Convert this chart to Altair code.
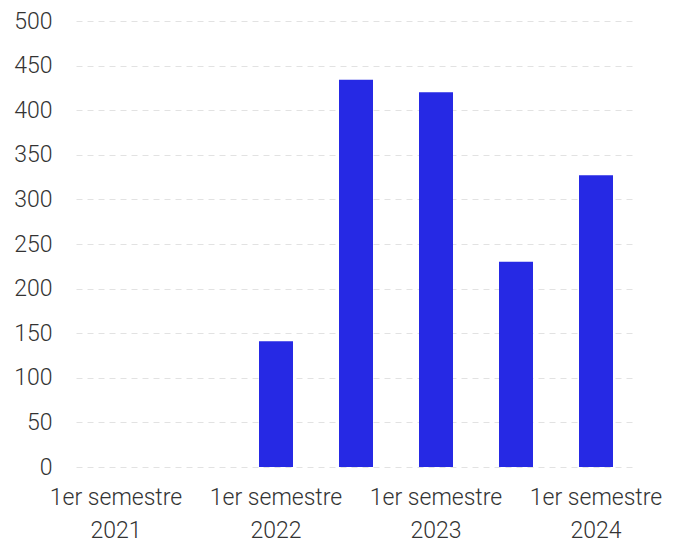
import altair as alt
import pandas as pd

categories = [
    "1er semestre 2021", "2do semestre 2021",
    "1er semestre 2022", "2do semestre 2022",
    "1er semestre 2023", "2do semestre 2023",
    "1er semestre 2024",
]
values = [0, 0, 141, 434, 420, 230, 327]
shown_labels = ["1er semestre 2021", "1er semestre 2022", "1er semestre 2023", "1er semestre 2024"]
y_ticks = [0, 50, 100, 150, 200, 250, 300, 350, 400, 450, 500]

df = pd.DataFrame({"cat": categories, "val": values})

chart = alt.Chart(df).mark_bar(color="#2629e4", size=34).encode(
    x=alt.X("cat:N", sort=categories, title=None,
            scale=alt.Scale(paddingInner=0, paddingOuter=0),
            axis=alt.Axis(values=shown_labels, labelAngle=0, ticks=False, domain=False,
                          labelExpr="[slice(datum.label,0,12), slice(datum.label,13)]",
                          labelLineHeight=33, labelPadding=19, labelFontSize=23,
                          labelFont="Roboto", labelFontWeight=300, labelColor="#333333")),
    y=alt.Y("val:Q", title=None,
            scale=alt.Scale(domain=[0, 500], nice=False),
            axis=alt.Axis(values=y_ticks, ticks=False, domain=False, labelPadding=24,
                          labelFontSize=23, labelFont="Roboto", labelFontWeight=300,
                          labelColor="#333333", gridColor="#e2e2e2", gridDash=[6, 5],
                          gridWidth=1)),
).properties(
    width=560, height=446,
    padding={"left": 5, "top": 2, "right": 5, "bottom": 2},
).configure_view(stroke=None).configure_axisX(grid=False)

chart.save("out.html", embed_options={"renderer": "svg", "actions": False})
